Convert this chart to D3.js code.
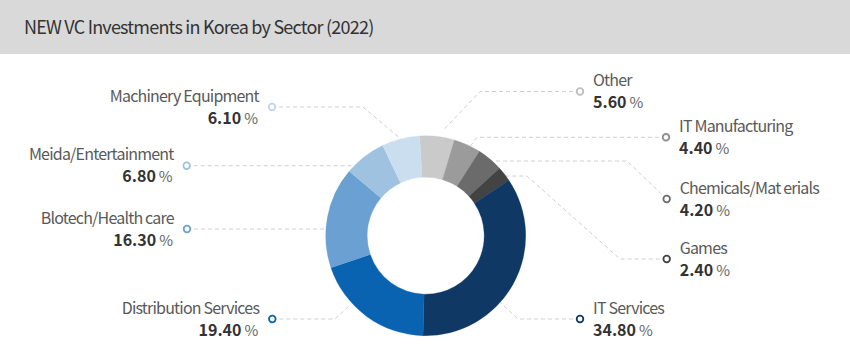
<!DOCTYPE html>
<html>
<head>
<meta charset="utf-8">
<script src="https://cdn.jsdelivr.net/npm/d3@7"></script>
<style>
  html, body { margin: 0; padding: 0; background: #fff; }
  svg { display: block; font-family: "Noto Sans CJK KR", "Noto Sans", sans-serif; }
</style>
</head>
<body>
<svg id="chart" width="850" height="356"></svg>
<script>
// ---- data ----
const title = "NEW VC Investments in Korea by Sector (2022)";
const categories = ["Other", "IT Manufacturing", "Chemicals/Mat erials", "Games", "IT Services",
                    "Distribution Services", "Blotech/Health care", "Meida/Entertainment", "Machinery Equipment"];
const shares = [5.6, 4.4, 4.2, 2.4, 34.8, 19.4, 16.3, 6.8, 6.1];
const sliceColors = ["#cacaca", "#9b9b9b", "#6b6b6b", "#434343", "#0f3865",
                     "#0a63b1", "#6aa1d2", "#9fc2e0", "#cbdeef"];

// ---- layout (label placement, relative to donut centre) ----
const W = 850, H = 356;
const cx = 425.7, cy = 235.7, outerR = 100, innerR = 58.5;
const startDeg = -3.5;
const labelLayout = [
  { side: "right", m: [154.3, -144.2], elbows: [[54.3, -144.2]], end: { deg: 9.5, r: 107 } },
  { side: "right", m: [240.3, -98.4], elbows: [[51.3, -98.4]], end: { deg: 26.5, r: 100 } },
  { side: "right", m: [241, -36.7], elbows: [[201.3, -74.7]], end: { y: -74.7 } },
  { side: "right", m: [241, 23.3], elbows: [[194.3, 23.3], [101.3, -59.7]], end: { y: -59.7 } },
  { side: "right", m: [154.3, 83.3], elbows: [[92.3, 83.3]], end: { deg: 131.9, r: 100 } },
  { side: "left",  m: [-153.4, 83.3], elbows: [[-90.7, 83.3]], end: { deg: 227.5, r: 101 } },
  { side: "left",  m: [-238.7, -6.7], elbows: [], end: { y: -6.7 } },
  { side: "left",  m: [-239, -70], elbows: [], end: { y: -70 } },
  { side: "left",  m: [-153.7, -128.7], elbows: [[-62.7, -128.7]], end: { deg: 345.5, r: 100 } }
];
const markerColors = ["#bdbdbd", "#8e8e8e", "#6b6b6b", "#434343", "#0f3865",
                      "#0a63b1", "#6aa1d2", "#9fc2e0", "#bcd6ee"];

const svg = d3.select("#chart");

// header band
svg.append("rect").attr("x", 0).attr("y", 0).attr("width", W).attr("height", 54).attr("fill", "#d9d9d9");
svg.append("text").attr("x", 24).attr("y", 33.5)
  .attr("font-size", 18).attr("letter-spacing", -0.78).attr("fill", "#333").text(title);

const data = categories.map((c, i) => ({ name: c, value: shares[i], color: sliceColors[i], marker: markerColors[i], layout: labelLayout[i] }));

const rad = d => d * Math.PI / 180;
const pie = d3.pie().value(d => d.value).sort(null)
  .startAngle(rad(startDeg)).endAngle(rad(startDeg) + 2 * Math.PI);
const arcs = pie(data);
const arc = d3.arc().innerRadius(innerR).outerRadius(outerR);

// leader lines (behind donut)
const leaderG = svg.append("g");
arcs.forEach(a => {
  const L = a.data.layout;
  const pts = [[cx + L.m[0], cy + L.m[1]]];
  L.elbows.forEach(e => pts.push([cx + e[0], cy + e[1]]));
  let endPt;
  if (L.end.y !== undefined) {
    const dy = L.end.y;
    const dx = Math.sqrt(outerR * outerR - dy * dy) * (L.side === "left" ? -1 : 1);
    endPt = [cx + dx, cy + dy];
  } else {
    const ang = rad(L.end.deg);
    endPt = [cx + L.end.r * Math.sin(ang), cy - L.end.r * Math.cos(ang)];
  }
  pts.push(endPt);
  leaderG.append("path")
    .attr("d", d3.line()(pts))
    .attr("fill", "none").attr("stroke", "#d0d0d0").attr("stroke-width", 1)
    .attr("stroke-dasharray", "4,3");
});

// donut
svg.append("g").attr("transform", `translate(${cx},${cy})`)
  .selectAll("path").data(arcs).join("path")
  .attr("d", arc).attr("fill", d => d.data.color)
  .attr("stroke", d => d.data.color).attr("stroke-width", 0.3);

// markers & labels
const labG = svg.append("g");
arcs.forEach(a => {
  const L = a.data.layout;
  const mx = cx + L.m[0], my = cy + L.m[1];
  labG.append("circle").attr("cx", mx).attr("cy", my).attr("r", 3.3)
    .attr("fill", "#fff").attr("stroke", a.data.marker).attr("stroke-width", 1.8);
  const left = L.side === "left";
  const tx = left ? mx - 14 : mx + 13;
  const anchor = left ? "end" : "start";
  labG.append("text").attr("x", tx + (left ? 0.8 : 0)).attr("y", my - 5.5)
    .attr("text-anchor", anchor).attr("font-size", 16).attr("letter-spacing", -0.8)
    .attr("fill", "#595959")
    .text(a.data.name);
  const v = labG.append("text").attr("x", tx).attr("y", my + 16.5)
    .attr("text-anchor", anchor);
  v.append("tspan").attr("font-size", 16).attr("font-weight", "bold").attr("fill", "#333")
    .text(a.data.value.toFixed(2));
  v.append("tspan").attr("font-size", 15).attr("fill", "#666").attr("dx", 3).text("%");
});
</script>
</body>
</html>
